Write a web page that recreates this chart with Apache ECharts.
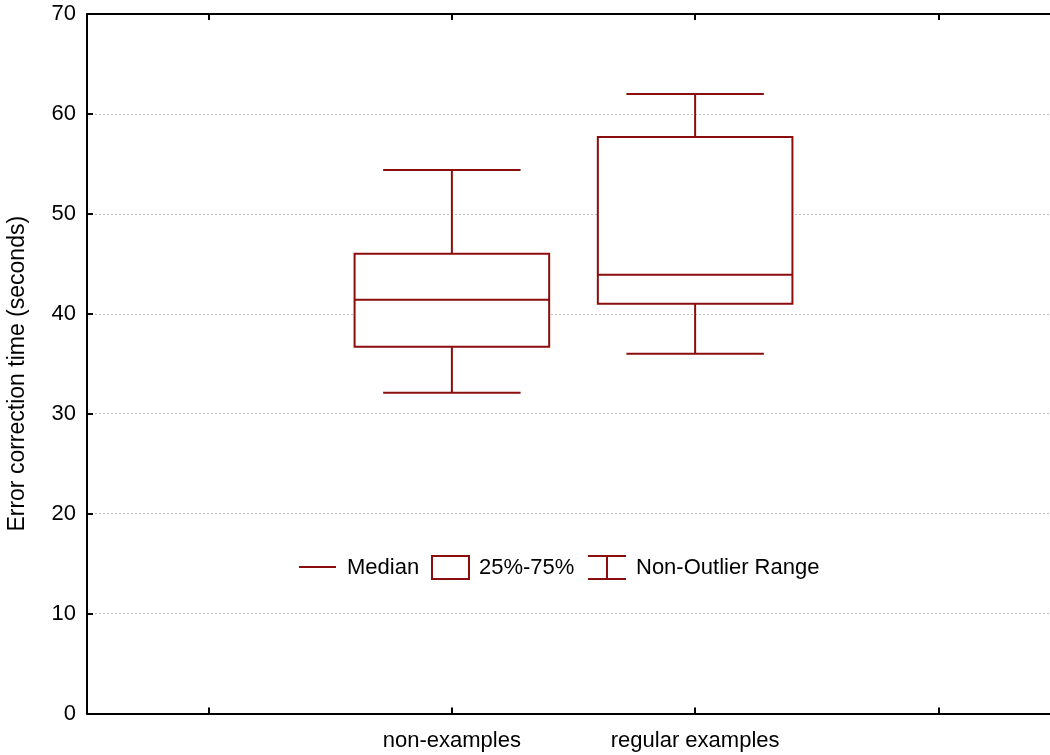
<!DOCTYPE html>
<html>
<head>
<meta charset="utf-8">
<script src="https://cdn.jsdelivr.net/npm/echarts@6/dist/echarts.min.js"></script>
<style>html,body{margin:0;padding:0;background:#fff;}#c{width:1050px;height:755px;}</style>
</head>
<body>
<div id="c"></div>
<script>
var categories = ['', 'non-examples', 'regular examples', ''];
// [categoryIndex, min, q1, median, q3, max]
var boxNonExamples = [1, 32.1, 36.7, 41.4, 46.0, 54.4];
var boxRegular = [2, 36.0, 41.0, 43.9, 57.7, 62.0];
var yTicks = [0, 70, 10];
var yName = 'Error correction time (seconds)';
var legendLabels = ['Median', '25%-75%', 'Non-Outlier Range'];

var RED = '#8b0d0d';
var FONT = 'Liberation Sans, Arial, sans-serif';

var chart = echarts.init(document.getElementById('c'), null, {renderer: 'canvas'});

function renderBox(params, api) {
  var idx = api.value(0);
  var vMin = api.value(1), q1 = api.value(2), med = api.value(3), q3 = api.value(4), vMax = api.value(5);
  var pMin = api.coord([idx, vMin]);
  var pQ1 = api.coord([idx, q1]);
  var pMed = api.coord([idx, med]);
  var pQ3 = api.coord([idx, q3]);
  var pMax = api.coord([idx, vMax]);
  var band = api.size([1, 0])[0];
  var cx = pMed[0];
  var bw = band * 0.80;
  var cw = band * 0.565;
  var st = {stroke: RED, lineWidth: 2, fill: null};
  return {
    type: 'group',
    children: [
      {type: 'line', shape: {x1: cx, y1: pMax[1], x2: cx, y2: pQ3[1]}, style: st},
      {type: 'line', shape: {x1: cx, y1: pQ1[1], x2: cx, y2: pMin[1]}, style: st},
      {type: 'line', shape: {x1: cx - cw / 2, y1: pMax[1], x2: cx + cw / 2, y2: pMax[1]}, style: st},
      {type: 'line', shape: {x1: cx - cw / 2, y1: pMin[1], x2: cx + cw / 2, y2: pMin[1]}, style: st},
      {type: 'rect', shape: {x: cx - bw / 2, y: pQ3[1], width: bw, height: pQ1[1] - pQ3[1]}, style: {stroke: RED, lineWidth: 2, fill: '#fff'}},
      {type: 'line', shape: {x1: cx - bw / 2, y1: pMed[1], x2: cx + bw / 2, y2: pMed[1]}, style: st}
    ]
  };
}

var FS = 22;

chart.setOption({
  animation: false,
  backgroundColor: '#fff',
  grid: {left: 87, top: 14, width: 973, height: 699.5, containLabel: false, outerBoundsMode: 'none'},
  xAxis: [
    {
      type: 'category', data: categories, position: 'bottom', boundaryGap: true,
      axisLine: {show: true, lineStyle: {color: '#000', width: 2}},
      axisTick: {show: true, inside: true, length: 6, alignWithLabel: true, interval: 0, lineStyle: {color: '#000', width: 2}},
      axisLabel: {color: '#000', fontSize: FS, fontFamily: FONT, margin: 16, interval: 0},
      splitLine: {show: false}
    },
    {
      type: 'category', data: categories, position: 'top', boundaryGap: true,
      axisLine: {show: true, lineStyle: {color: '#000', width: 2}},
      axisTick: {show: true, inside: true, length: 6, alignWithLabel: true, interval: 0, lineStyle: {color: '#000', width: 2}},
      axisLabel: {show: false},
      splitLine: {show: false}
    }
  ],
  yAxis: {
    type: 'value', min: yTicks[0], max: yTicks[1], interval: yTicks[2],
    name: yName, nameLocation: 'middle', nameGap: 58, nameRotate: 90,
    nameTextStyle: {color: '#000', fontSize: 23, fontFamily: FONT, padding: [0, 20, 0, 0]},
    axisLine: {show: true, lineStyle: {color: '#000', width: 2}},
    axisTick: {show: true, inside: true, length: 6, lineStyle: {color: '#000', width: 2}},
    axisLabel: {color: '#000', fontSize: FS, fontFamily: FONT, margin: 11},
    splitLine: {show: true, lineStyle: {color: '#bbb', type: [2, 2], width: 1}}
  },
  series: [{
    type: 'custom',
    name: 'box',
    renderItem: renderBox,
    encode: {x: 0, y: [1, 2, 3, 4, 5]},
    data: [boxNonExamples, boxRegular],
    z: 5
  }],
  graphic: [
    {type: 'line', shape: {x1: 299, y1: 567, x2: 336, y2: 567}, style: {stroke: RED, lineWidth: 2}, z: 10},
    {type: 'text', x: 347, y: 568, style: {text: legendLabels[0], fill: '#000', font: FS + 'px ' + FONT, verticalAlign: 'middle'}, z: 10},
    {type: 'rect', shape: {x: 432, y: 556, width: 37, height: 23}, style: {stroke: RED, lineWidth: 2, fill: '#fff'}, z: 10},
    {type: 'text', x: 479, y: 568, style: {text: legendLabels[1], fill: '#000', font: FS + 'px ' + FONT, verticalAlign: 'middle'}, z: 10},
    {type: 'line', shape: {x1: 588, y1: 556, x2: 626, y2: 556}, style: {stroke: RED, lineWidth: 2}, z: 10},
    {type: 'line', shape: {x1: 588, y1: 579, x2: 626, y2: 579}, style: {stroke: RED, lineWidth: 2}, z: 10},
    {type: 'line', shape: {x1: 607, y1: 556, x2: 607, y2: 579}, style: {stroke: RED, lineWidth: 2}, z: 10},
    {type: 'text', x: 636, y: 568, style: {text: legendLabels[2], fill: '#000', font: FS + 'px ' + FONT, verticalAlign: 'middle'}, z: 10}
  ]
});
</script>
</body>
</html>
